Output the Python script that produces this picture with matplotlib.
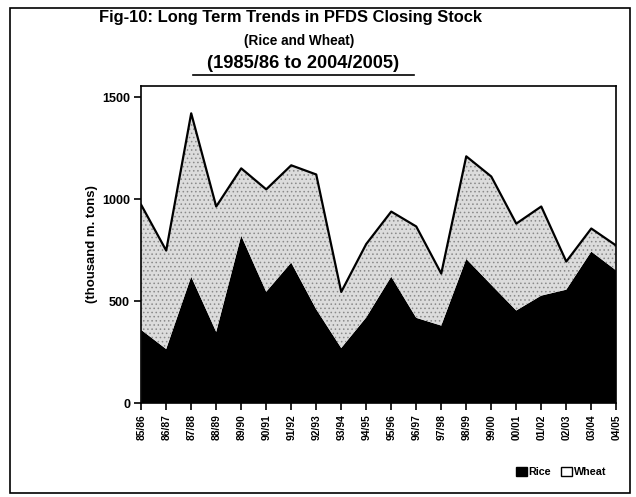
import matplotlib
matplotlib.use('Agg')
import matplotlib.pyplot as plt
from matplotlib.patches import Rectangle
from matplotlib import font_manager

# ---- data (thousand m. tons) ----
years = ['85/86', '86/87', '87/88', '88/89', '89/90', '90/91', '91/92', '92/93',
         '93/94', '94/95', '95/96', '96/97', '97/98', '98/99', '99/00', '00/01',
         '01/02', '02/03', '03/04', '04/05']
rice = [359, 265, 620, 349, 821, 546, 689, 460, 270, 420, 620, 418, 380, 707,
        580, 454, 527, 556, 743, 650]
total = [972, 748, 1421, 964, 1151, 1048, 1166, 1121, 545, 780, 939, 866, 635, 1210,
         1111, 880, 964, 694, 856, 772]
wheat = [t - r for t, r in zip(total, rice)]

names = {f.name for f in font_manager.fontManager.ttflist}
narrow = 'Liberation Sans Narrow' in names
plt.rcParams['font.family'] = (['Liberation Sans Narrow'] if narrow else []) + ['Liberation Sans', 'DejaVu Sans']
plt.rcParams['hatch.linewidth'] = 0.6
plt.rcParams['hatch.color'] = '#777777'
k = 1.0 if narrow else 0.82  # shrink sizes when no condensed face is available

fig = plt.figure(figsize=(6.36, 4.97), dpi=100)
ax = fig.add_axes([0.222, 0.189, 0.747, 0.638])

x = list(range(len(years)))
ax.stackplot(x, rice, wheat, colors=['black', '#dcdcdc'], linewidth=0)
ax.collections[1].set_hatch('....')
ax.collections[1].set_edgecolor('#8a8a8a')
ax.plot(x, total, color='black', linewidth=1.6)

ax.set_xlim(0, len(years) - 1)
ax.set_ylim(0, 1555)
ax.set_yticks([0, 500, 1000, 1500])
ax.set_xticks(x)
ax.set_xticklabels(years, rotation=90, fontsize=9 * k, fontweight='bold')
for lab in ax.get_yticklabels():
    lab.set_fontsize(11 * k)
    lab.set_fontweight('bold')
ax.tick_params(direction='out', length=5, width=1.2, pad=3)
for s in ax.spines.values():
    s.set_linewidth(1.2)
ax.set_ylabel('(thousand m. tons)', fontsize=11.5 * k, fontweight='bold', labelpad=3)

# titles
fig.text(0.456, 0.965, 'Fig-10: Long Term Trends in PFDS Closing Stock',
         ha='center', va='center', fontsize=14.5 * k, fontweight='bold')
fig.text(0.471, 0.918, '(Rice and Wheat)', ha='center', va='center',
         fontsize=12 * k, fontweight='bold')
fig.text(0.476, 0.873, '(1985/86 to 2004/2005)', ha='center', va='center',
         fontsize=16 * k, fontweight='bold')
fig.add_artist(plt.Line2D([0.303, 0.651], [0.850, 0.850], color='black',
                          linewidth=1.2, transform=fig.transFigure))

# legend
leg = ax.legend(['Rice', 'Wheat'], loc='center right', bbox_to_anchor=(1.0, -0.218),
                frameon=False, ncol=2, fontsize=9.5 * k, handlelength=1.0,
                handleheight=0.8, columnspacing=0.9, handletextpad=0.2)
for h in leg.legend_handles:
    h.set_edgecolor('black')
    h.set_linewidth(1.0)
leg.legend_handles[1].set_facecolor('white')
leg.legend_handles[1].set_hatch(None)
for txt in leg.get_texts():
    txt.set_fontweight('bold')

# outer border of the scanned figure
fig.add_artist(Rectangle((0.016, 0.008), 0.975, 0.975, transform=fig.transFigure,
                         fill=False, edgecolor='black', linewidth=1.2))

fig.savefig('out.png', dpi=100)
